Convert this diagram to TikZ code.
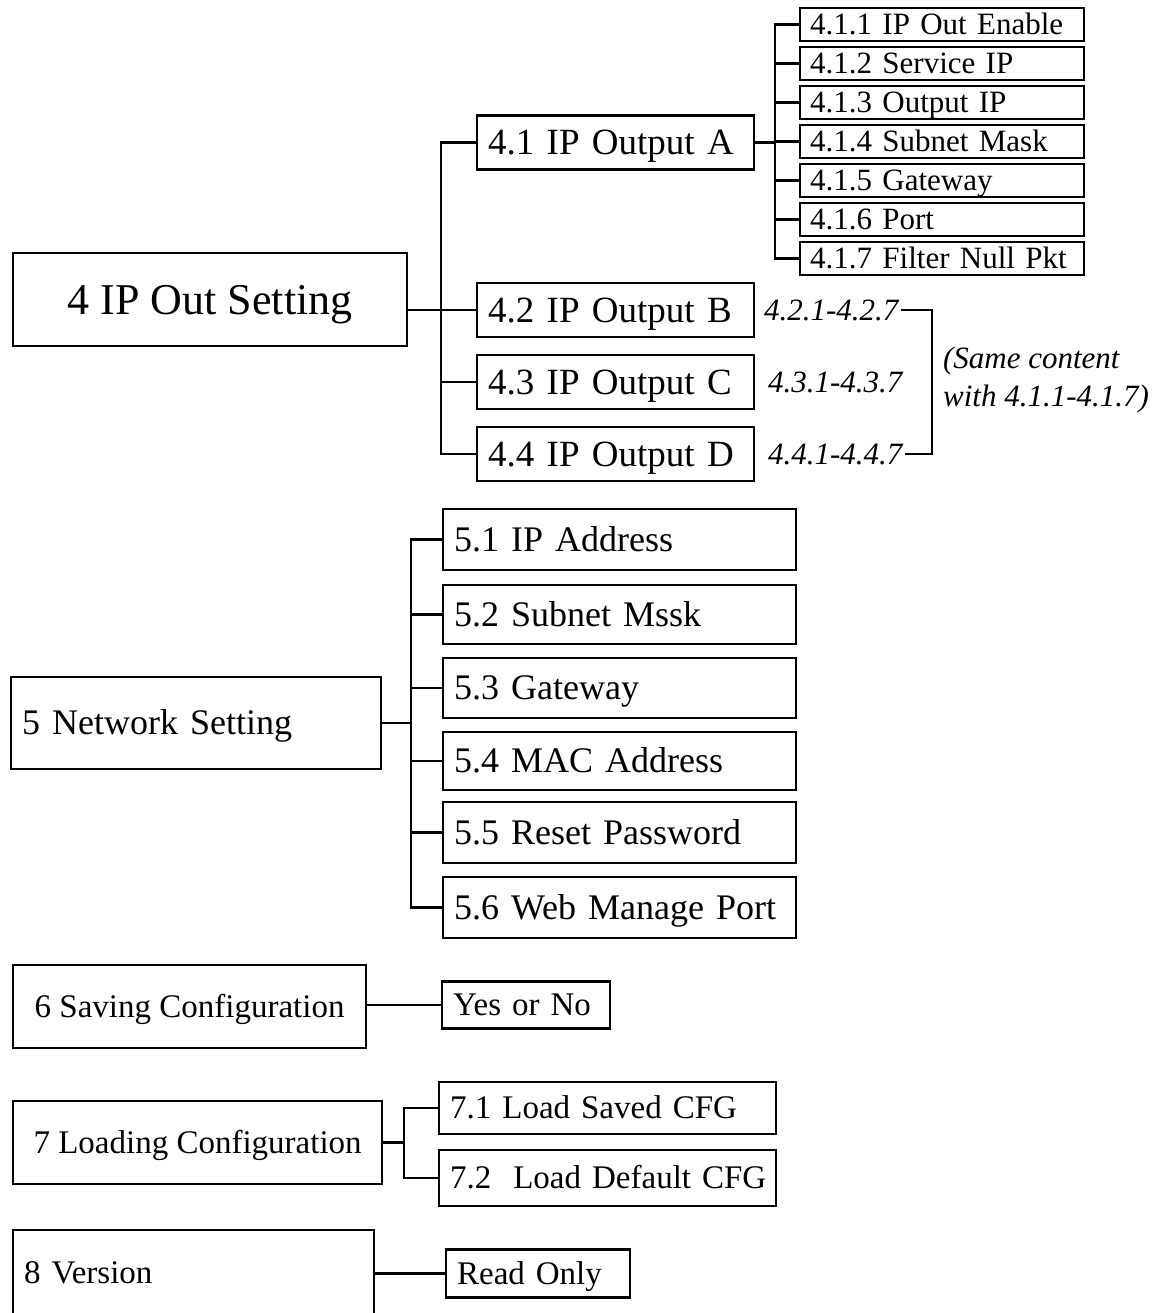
\documentclass[tikz,border=0pt]{standalone}
\usepackage{fontspec}
\setmainfont{Liberation Serif}
\usetikzlibrary{positioning}

\begin{document}
\begin{tikzpicture}[x=1pt,y=-1pt,line width=2.2pt]
  \tikzstyle{box}=[draw,rectangle,anchor=west,inner ysep=0pt]
  \tikzstyle{mainbox}=[box,inner xsep=0pt,font=\fontsize{44}{50}\selectfont,text height=38pt,text depth=9pt,minimum width=394pt,minimum height=93pt]
  \tikzstyle{subbox}=[box,inner xsep=11pt,align=left,text width=255pt,font=\fontsize{37}{44}\selectfont,text height=32pt,text depth=7.5pt,minimum height=54pt]
  \tikzstyle{leafbox}=[box,inner xsep=10pt,align=left,text width=264pt,font=\fontsize{31}{38}\selectfont,text height=25.5pt,text depth=6pt,minimum height=33pt]
  \tikzstyle{rnglabel}=[anchor=west,inner sep=1pt,font=\fontsize{31}{38}\selectfont\itshape]
  \tikzstyle{netbox}=[box,inner xsep=11pt,align=left,font=\fontsize{36}{43}\selectfont,text height=31pt,text depth=7.5pt]
  \tikzstyle{cfgbox}=[box,font=\fontsize{33}{40}\selectfont,text height=28.5pt,text depth=7pt]

  \useasboundingbox (0,0) rectangle (1162,1313);
  \clip (0,0) rectangle (1162,1313);

  \node[mainbox] (n4)  at (12,299.5) {4 IP Out Setting};
  \node[subbox]  (n41) at (476,142.5) {4.1 IP Output A};
  \node[subbox]  (n42) at (476,310)   {4.2 IP Output B};
  \node[subbox]  (n43) at (476,382)   {4.3 IP Output C};
  \node[subbox]  (n44) at (476,454)   {4.4 IP Output D};

  \node[leafbox] (n411) at (799,24.5)  {4.1.1 IP Out Enable};
  \node[leafbox] (n412) at (799,63.5)  {4.1.2 Service IP};
  \node[leafbox] (n413) at (799,102.5) {4.1.3 Output IP};
  \node[leafbox] (n414) at (799,141.5) {4.1.4 Subnet Mask};
  \node[leafbox] (n415) at (799,180.5) {4.1.5 Gateway};
  \node[leafbox] (n416) at (799,219.5) {4.1.6 Port};
  \node[leafbox] (n417) at (799,258.5) {4.1.7 Filter Null Pkt};

  \node[rnglabel] (r42) at (762,310) {4.2.1-4.2.7};
  \node[rnglabel] (r43) at (766,382) {4.3.1-4.3.7};
  \node[rnglabel] (r44) at (766,454) {4.4.1-4.4.7};
  \node[rnglabel,align=left] (same) at (941,380) {(Same content\\with 4.1.1-4.1.7)};

  \coordinate (s4)  at (441,0);
  \coordinate (s41) at (775,0);
  \coordinate (br)  at (932,0);

  \draw (n42.west) -- (n42.west -| n4.east);
  \draw (n41.west) -- (n41.west -| s4) -- (n44.west -| s4) -- (n44.west);
  \draw (n43.west) -- (n43.west -| s4);

  \draw (n41.east) -- (n41.east -| s41);
  \draw (n411.west) -- (n411.west -| s41) -- (n417.west -| s41) -- (n417.west);
  \draw (n412.west) -- (n412.west -| s41);
  \draw (n413.west) -- (n413.west -| s41);
  \draw (n414.west) -- (n414.west -| s41);
  \draw (n415.west) -- (n415.west -| s41);
  \draw (n416.west) -- (n416.west -| s41);

  \draw (r42.east) -- (r42.east -| br) -- (r44.east -| br) -- (r44.east);

  \node[netbox,text width=348pt,minimum height=92pt] (n5) at (10,723) {5 Network Setting};
  \node[netbox,text width=331pt,minimum height=61pt] (n51) at (442,539.5) {5.1 IP Address};
  \node[netbox,text width=331pt,minimum height=59pt] (n52) at (442,614.5) {5.2 Subnet Mssk};
  \node[netbox,text width=331pt,minimum height=60pt] (n53) at (442,688)   {5.3 Gateway};
  \node[netbox,text width=331pt,minimum height=58pt] (n54) at (442,761)   {5.4 MAC Address};
  \node[netbox,text width=331pt,minimum height=61pt] (n55) at (442,832.5) {5.5 Reset Password};
  \node[netbox,text width=331pt,minimum height=61pt] (n56) at (442,907.5) {5.6 Web Manage Port};

  \coordinate (s5) at (411,0);
  \draw (n5.east) -- (n5.east -| s5);
  \draw (n51.west) -- (n51.west -| s5) -- (n56.west -| s5) -- (n56.west);
  \draw (n52.west) -- (n52.west -| s5);
  \draw (n53.west) -- (n53.west -| s5);
  \draw (n54.west) -- (n54.west -| s5);
  \draw (n55.west) -- (n55.west -| s5);

  \node[cfgbox,inner xsep=0pt,minimum width=353pt,minimum height=83pt] (n6) at (12,1006.5) {6 Saving Configuration};
  \node[cfgbox,inner xsep=11pt,align=left,text width=146pt,minimum height=47pt] (yes) at (441,1005) {Yes or No};
  \draw (yes.west -| n6.east) -- (yes.west);

  \node[cfgbox,inner xsep=0pt,minimum width=369pt,minimum height=83pt] (n7) at (12,1142.5) {7 Loading Configuration};
  \node[cfgbox,inner xsep=11pt,align=left,text width=315pt,minimum height=52pt] (n71) at (438,1108) {7.1 Load Saved CFG};
  \node[cfgbox,inner xsep=11pt,align=left,text width=315pt,minimum height=56pt] (n72) at (438,1178) {\mbox{7.2\ \ Load Default CFG}};
  \coordinate (s7) at (404,0);
  \draw (n7.east) -- (n7.east -| s7);
  \draw (n71.west) -- (n71.west -| s7) -- (n72.west -| s7) -- (n72.west);

  \node[cfgbox,inner xsep=11pt,align=left,text width=339pt,minimum height=86pt] (n8) at (12,1273) {8 Version};
  \node[cfgbox,inner xsep=11pt,align=left,text width=162pt,minimum height=48pt] (ro) at (445,1273.5) {Read Only};
  \draw (ro.west -| n8.east) -- (ro.west);
\end{tikzpicture}
\end{document}
